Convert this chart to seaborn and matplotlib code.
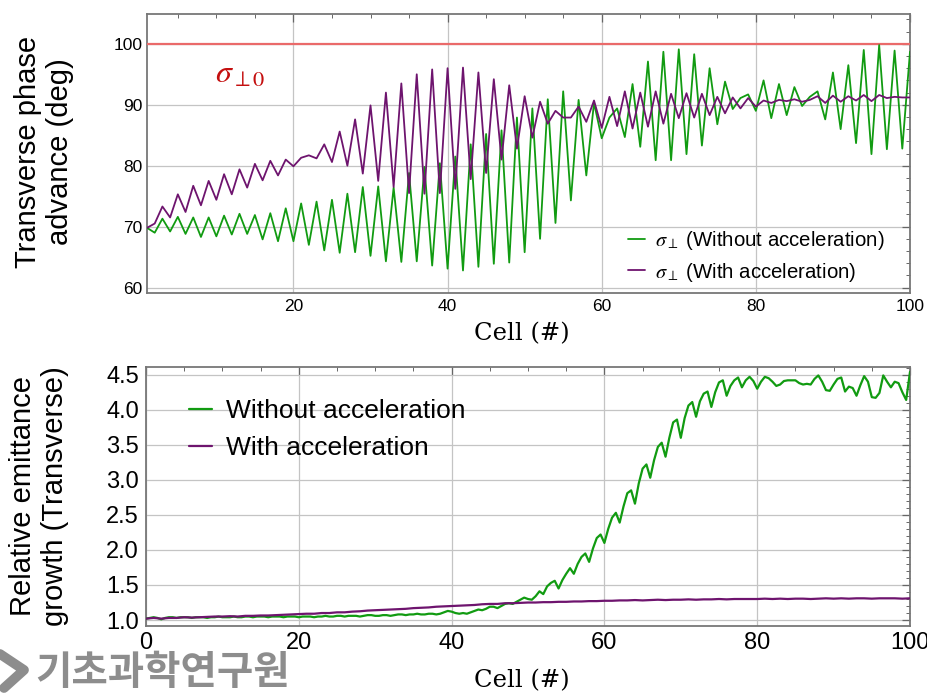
import numpy as np
import pandas as pd
import matplotlib
matplotlib.use("Agg")
import matplotlib.pyplot as plt
from matplotlib.lines import Line2D
from matplotlib.ticker import MultipleLocator, FormatStrFormatter
import seaborn as sns

# ---------------- data ----------------
cells_top = list(range(1, 101))
phase_without = [
    69.8, 69.0, 71.3, 69.2, 71.6, 68.8, 71.5, 68.3, 71.5, 68.4,
    71.8, 68.7, 72.1, 68.8, 71.9, 67.9, 72.2, 67.6, 73.0, 67.6,
    73.8, 67.0, 74.1, 66.1, 74.4, 65.7, 75.4, 65.8, 76.5, 65.2,
    76.6, 64.3, 76.4, 64.2, 78.8, 64.3, 79.8, 63.6, 80.4, 63.1,
    81.5, 62.8, 83.5, 63.4, 85.2, 63.9, 85.8, 64.1, 87.9, 65.8,
    89.4, 68.0, 90.9, 70.6, 92.2, 74.3, 90.8, 78.4, 90.3, 84.5,
    87.9, 89.4, 84.7, 93.4, 83.1, 97.1, 80.9, 98.7, 80.9, 99.1,
    81.9, 98.3, 83.3, 96.0, 86.8, 93.8, 89.3, 91.1, 91.7, 89.0,
    94.0, 87.8, 93.4, 88.3, 92.9, 89.8, 91.3, 92.2, 87.6, 95.3,
    86.0, 96.5, 83.7, 99.0, 81.9, 99.8, 82.7, 98.9, 82.8, 98.7,
]
phase_with = [
    69.8, 70.5, 73.3, 71.5, 75.3, 72.4, 76.7, 73.5, 77.5, 74.4,
    78.6, 75.3, 79.4, 76.4, 80.3, 77.6, 80.8, 78.4, 81.0, 79.9,
    81.3, 81.7, 81.2, 83.5, 80.6, 85.6, 80.0, 87.6, 78.7, 89.9,
    77.5, 92.0, 76.5, 93.5, 75.5, 95.0, 75.4, 95.8, 75.5, 96.0,
    76.2, 96.1, 77.8, 95.3, 78.8, 94.2, 81.0, 93.2, 82.8, 91.4,
    84.6, 90.5, 86.9, 89.0, 87.9, 87.9, 89.7, 87.2, 90.7, 86.2,
    91.3, 86.5, 92.2, 86.1, 92.0, 86.4, 92.2, 86.9, 91.8, 87.8,
    91.9, 87.9, 91.8, 88.3, 91.3, 88.6, 91.2, 89.4, 91.1, 89.7,
    90.7, 90.3, 90.8, 90.6, 90.9, 90.5, 90.8, 91.4, 90.3, 91.5,
    90.5, 91.4, 90.7, 91.6, 90.6, 91.6, 91.1, 91.3, 91.2, 91.2,
]
sigma0 = 100.0

cells_emit_without = [i * 0.5 for i in range(201)]
emit_without = [
    1.02, 1.03, 1.04, 1.03, 1.01, 1.03, 1.04, 1.04, 1.03, 1.04,
    1.04, 1.04, 1.03, 1.04, 1.04, 1.04, 1.03, 1.04, 1.04, 1.05,
    1.04, 1.04, 1.04, 1.05, 1.04, 1.04, 1.05, 1.05, 1.04, 1.05,
    1.05, 1.05, 1.04, 1.05, 1.05, 1.05, 1.04, 1.05, 1.05, 1.05,
    1.04, 1.05, 1.05, 1.05, 1.04, 1.05, 1.05, 1.06, 1.05, 1.05,
    1.06, 1.06, 1.05, 1.06, 1.06, 1.06, 1.05, 1.06, 1.07, 1.07,
    1.06, 1.06, 1.07, 1.07, 1.06, 1.07, 1.08, 1.08, 1.07, 1.08,
    1.08, 1.09, 1.08, 1.08, 1.09, 1.09, 1.08, 1.09, 1.11, 1.13,
    1.12, 1.10, 1.09, 1.10, 1.09, 1.11, 1.13, 1.15, 1.14, 1.16,
    1.19, 1.19, 1.17, 1.20, 1.23, 1.24, 1.23, 1.26, 1.29, 1.32,
    1.30, 1.29, 1.34, 1.41, 1.37, 1.48, 1.53, 1.56, 1.45, 1.57,
    1.66, 1.74, 1.66, 1.80, 1.90, 1.95, 1.83, 2.02, 2.17, 2.22,
    2.10, 2.30, 2.46, 2.53, 2.39, 2.62, 2.81, 2.85, 2.66, 2.95,
    3.16, 3.22, 3.03, 3.28, 3.47, 3.53, 3.33, 3.60, 3.82, 3.86,
    3.60, 3.88, 4.06, 4.11, 3.90, 4.12, 4.23, 4.26, 4.04, 4.25,
    4.39, 4.42, 4.20, 4.34, 4.42, 4.46, 4.32, 4.42, 4.47, 4.41,
    4.30, 4.40, 4.47, 4.45, 4.40, 4.34, 4.36, 4.41, 4.42, 4.42,
    4.42, 4.38, 4.36, 4.37, 4.36, 4.44, 4.49, 4.40, 4.28, 4.27,
    4.36, 4.44, 4.46, 4.26, 4.33, 4.31, 4.20, 4.35, 4.48, 4.40,
    4.18, 4.17, 4.24, 4.49, 4.40, 4.32, 4.40, 4.38, 4.25, 4.14,
    4.54,
]
cells_emit_with = list(range(0, 101))
emit_with = [
    1.02, 1.03, 1.02, 1.03, 1.03, 1.04, 1.035, 1.04, 1.045, 1.05,
    1.05, 1.055, 1.05, 1.06, 1.06, 1.065, 1.065, 1.07, 1.075, 1.08,
    1.085, 1.09, 1.09, 1.10, 1.10, 1.11, 1.11, 1.12, 1.125, 1.135,
    1.14, 1.145, 1.15, 1.155, 1.16, 1.17, 1.175, 1.18, 1.19, 1.195,
    1.20, 1.205, 1.21, 1.215, 1.225, 1.23, 1.23, 1.24, 1.24, 1.245,
    1.25, 1.25, 1.255, 1.255, 1.26, 1.26, 1.265, 1.265, 1.27, 1.27,
    1.275, 1.275, 1.28, 1.28, 1.285, 1.28, 1.285, 1.29, 1.285, 1.29,
    1.29, 1.295, 1.29, 1.295, 1.295, 1.30, 1.295, 1.30, 1.30, 1.30,
    1.30, 1.305, 1.30, 1.305, 1.30, 1.305, 1.305, 1.30, 1.305, 1.31,
    1.305, 1.31, 1.305, 1.31, 1.31, 1.305, 1.31, 1.31, 1.31, 1.305,
    1.31,
]

GREEN = "#119b11"
PURPLE = "#6e146e"
RED_LINE = "#ea6a6a"
RED_TXT = "#c40f0f"
LOGO_GRAY = "#8d8d8d"

# ---------------- style ----------------
sns.set_theme(style="white")
plt.rcParams["font.family"] = ["Liberation Sans", "DejaVu Sans"]
plt.rcParams["mathtext.fontset"] = "stix"
plt.rcParams["text.color"] = "black"
plt.rcParams["axes.labelcolor"] = "black"
plt.rcParams["legend.labelcolor"] = "black"

fig = plt.figure(figsize=(9.28, 6.95), dpi=100)
W, H = 928.0, 695.0
ax1 = fig.add_axes([147 / W, (H - 293) / H, 763 / W, 279 / H])
ax2 = fig.add_axes([146 / W, (H - 626) / H, 764 / W, 259 / H])

df_top = pd.DataFrame({"cell": cells_top, "without": phase_without, "with": phase_with})
df_ew = pd.DataFrame({"cell": cells_emit_without, "val": emit_without})
df_ea = pd.DataFrame({"cell": cells_emit_with, "val": emit_with})

# top panel
ax1.axhline(sigma0, color=RED_LINE, lw=1.6, zorder=3)
sns.lineplot(data=df_top, x="cell", y="without", ax=ax1, color=GREEN, lw=1.3,
             label=r"$\sigma_{\perp}$ (Without acceleration)", zorder=4)
sns.lineplot(data=df_top, x="cell", y="with", ax=ax1, color=PURPLE, lw=1.3,
             label=r"$\sigma_{\perp}$ (With acceleration)", zorder=5)
ax1.set_xlim(1, 100)
ax1.set_ylim(59.1, 104.9)
ax1.text(9.8, 94.9, r"$\sigma_{\perp 0}$", color=RED_TXT, fontsize=23,
         ha="left", va="center")

# bottom panel
sns.lineplot(data=df_ew, x="cell", y="val", ax=ax2, color=GREEN, lw=1.6,
             label="Without acceleration", zorder=4)
sns.lineplot(data=df_ea, x="cell", y="val", ax=ax2, color=PURPLE, lw=1.6,
             label="With acceleration", zorder=5)
ax2.set_xlim(0, 100)
ax2.set_ylim(0.915, 4.61)

for ax, fs in ((ax1, 12.5), (ax2, 17)):
    ax.set_xlabel("")
    ax.set_ylabel("")
    ax.xaxis.set_major_locator(MultipleLocator(20))
    ax.xaxis.set_minor_locator(MultipleLocator(5))
    ax.grid(True, which="major", color="#c4c4c4", lw=0.9, zorder=0)
    ax.tick_params(which="both", direction="in", top=True, right=True,
                   color="#666666", labelsize=fs, labelcolor="black")
    ax.tick_params(which="major", length=5.5, width=0.9)
    ax.tick_params(which="minor", length=3, width=0.7)
    for s in ax.spines.values():
        s.set_visible(True)
        s.set_color("#777777")
        s.set_linewidth(1.3)

ax1.yaxis.set_major_locator(MultipleLocator(10))
ax1.yaxis.set_minor_locator(MultipleLocator(2))
ax1.tick_params(axis="x", pad=4)
ax1.tick_params(axis="y", pad=3)
ax2.yaxis.set_major_locator(MultipleLocator(0.5))
ax2.yaxis.set_minor_locator(MultipleLocator(0.1))
ax2.yaxis.set_major_formatter(FormatStrFormatter("%.1f"))
ax2.tick_params(axis="x", pad=4)
ax2.tick_params(axis="y", pad=5)

leg1 = ax1.legend(loc="center left", bbox_to_anchor=(0.630, 0.131), frameon=False,
                  fontsize=14.7, borderpad=0, borderaxespad=0, handlelength=0.85,
                  handletextpad=0.5, labelspacing=0.4)
leg2 = ax2.legend(loc="center left", bbox_to_anchor=(0.0563, 0.7587), frameon=False,
                  fontsize=19, borderpad=0, borderaxespad=0, handlelength=0.86,
                  handletextpad=0.55, labelspacing=0.5)

# axis labels
fig.text(44 / W, 1 - 152 / H, "Transverse phase\nadvance (deg)", rotation=90,
         ha="center", va="center", fontsize=21, linespacing=1.15)
fig.text(39 / W, 1 - 496 / H, "Relative emittance\ngrowth (Transverse)", rotation=90,
         ha="center", va="center", fontsize=21, linespacing=1.2)
fig.text(522 / W, 1 - 334 / H, "Cell (#)", ha="center", va="center",
         fontsize=17.5, family="DejaVu Serif")
fig.text(522 / W, 1 - 681 / H, "Cell (#)", ha="center", va="center",
         fontsize=17.5, family="DejaVu Serif")

# watermark (logo mark + text)
fig.add_artist(Line2D([0 / W, 24 / W, 4 / W], [1 - 654 / H, 1 - 670 / H, 1 - 688 / H],
                      transform=fig.transFigure, color=LOGO_GRAY, lw=7,
                      solid_capstyle="round", solid_joinstyle="round"))
fig.text(35 / W, 1 - 672 / H, "기초과학연구원", ha="left", va="center",
         fontsize=28.5, color=LOGO_GRAY, fontweight="bold",
         family=["Noto Sans CJK KR", "DejaVu Sans"])

fig.savefig("out.png", dpi=100)
